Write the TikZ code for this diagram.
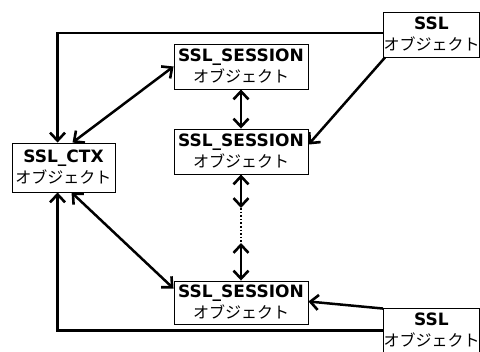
\documentclass[tikz,border=0pt]{standalone}
\usepackage{fontspec}
\setmainfont{DejaVu Sans}
\newfontfamily\jpfont{Noto Sans CJK JP}
\usetikzlibrary{arrows.meta,calc}
\tikzset{
  obj/.style={draw=black,line width=0.9pt,rectangle,inner sep=0pt,align=center,
    font=\fontsize{17}{21}\selectfont},
  conn/.style={line width=2.5pt,
    >={Straight Barb[length=8pt,width=15pt,line width=2.6pt]}},
  dotline/.style={line width=2.2pt,dash pattern=on 1.6pt off 2pt}
}
\newcommand{\objtext}[1]{\textbf{#1}\\{\jpfont\fontsize{16}{16}\selectfont オブジェクト}}
\begin{document}
\begin{tikzpicture}[x=1pt,y=-1pt]
\useasboundingbox (0,0) rectangle (480,352);
\node[obj,minimum width=93pt,minimum height=45pt] (sslT) at (431.5,34.5) {\objtext{SSL}};
\node[obj,minimum width=134pt,minimum height=45pt] (s1) at (241,66.5) {\objtext{SSL\_SESSION}};
\node[obj,minimum width=134pt,minimum height=45pt] (s2) at (241,151.5) {\objtext{SSL\_SESSION}};
\node[obj,minimum width=134pt,minimum height=43pt] (s3) at (241,302.5) {\objtext{SSL\_SESSION}};
\node[obj,minimum width=103pt,minimum height=49pt] (ctx) at (63.5,167.5) {\objtext{SSL\_CTX}};
\node[obj,minimum width=93pt,minimum height=45pt] (sslB) at (431.5,330.5) {\objtext{SSL}};
\coordinate (m1) at (241,208);
\coordinate (m2) at (241,243);
% connectors
\draw[conn,->] ($(sslT.west)+(0,-1.5)$) -| ($(ctx.north west)+(46,0)$);
\draw[conn,->] (sslB.west) -| ($(ctx.south west)+(46,0)$);
\draw[conn,<->] ($(ctx.north west)+(61,0)$) -- (s1.west);
\draw[conn,<->] ($(ctx.south west)+(60,0)$) -- ($(s3.north west)+(0,8)$);
\draw[conn,->] ($(sslT.south west)+(2,0)$) -- ($(s2.north east)+(0,16)$);
\draw[conn,->] ($(sslB.north west)+(0,1)$) -- ($(s3.east)+(0,-1)$);
\draw[conn,<->] (s1.south) -- (s2.north);
\draw[conn,<->] (s2.south) -- (m1);
\draw[dotline] (m1) -- (m2);
\draw[conn,<->] (m2) -- (s3.north);
\end{tikzpicture}
\end{document}
